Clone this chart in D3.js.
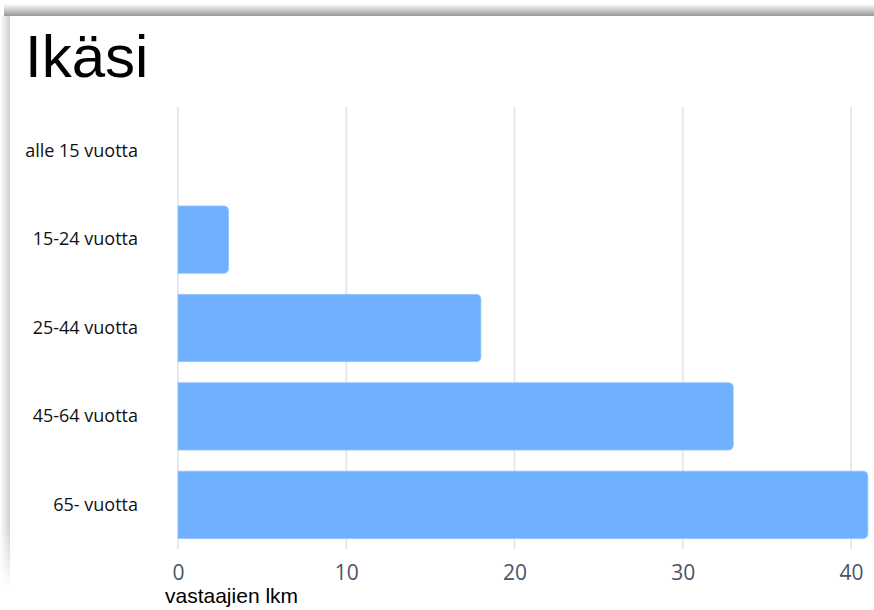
<!DOCTYPE html>
<html>
<head>
<meta charset="utf-8">
<script src="https://cdn.jsdelivr.net/npm/d3@7"></script>
<style>
  body { margin: 0; background: #fff; }
  svg { display: block; }
</style>
</head>
<body>
<div id="chart"></div>
<script>
// Data
const categories = ['alle 15 vuotta', '15-24 vuotta', '25-44 vuotta', '45-64 vuotta', '65- vuotta'];
const counts = [0, 3, 18, 33, 41];
const xTicks = [0, 10, 20, 30, 40];

const W = 874, H = 610;

const svg = d3.select('#chart')
	.append('svg')
	.attr('width', W)
	.attr('height', H);

// Card shadow (top and left edges)
const defs = svg.append('defs');
const gTop = defs.append('linearGradient').attr('id', 'shTop')
	.attr('x1', 0).attr('y1', 0).attr('x2', 0).attr('y2', 1);
gTop.append('stop').attr('offset', '0%').attr('stop-color', '#fff');
gTop.append('stop').attr('offset', '100%').attr('stop-color', '#979797');
const gLeft = defs.append('linearGradient').attr('id', 'shLeft')
	.attr('x1', 0).attr('y1', 0).attr('x2', 1).attr('y2', 0);
gLeft.append('stop').attr('offset', '0%').attr('stop-color', '#fff');
gLeft.append('stop').attr('offset', '100%').attr('stop-color', '#d0d0d0');
const gFade = defs.append('linearGradient').attr('id', 'fade')
	.attr('x1', 0).attr('y1', 0).attr('x2', 0).attr('y2', 1);
gFade.append('stop').attr('offset', '0%').attr('stop-color', '#fff').attr('stop-opacity', 0);
gFade.append('stop').attr('offset', '100%').attr('stop-color', '#fff').attr('stop-opacity', 1);

svg.append('rect').attr('x', 0).attr('y', 16).attr('width', 10).attr('height', 570).attr('fill', 'url(#shLeft)');
svg.append('rect').attr('x', 0).attr('y', 530).attr('width', 10).attr('height', 60).attr('fill', 'url(#fade)');
svg.append('rect').attr('x', 4).attr('y', 4).attr('width', W).attr('height', 12).attr('fill', 'url(#shTop)');

// Title
svg.append('text')
	.attr('x', 25)
	.attr('y', 77)
	.style('font-family', '"Liberation Sans", Arial, sans-serif')
	.style('font-size', '60px')
	.attr('fill', '#000')
	.text('Ikäsi');

// Scales
const x = d3.scaleLinear().domain([0, 40]).range([178, 851]);
const y = d3.scaleBand().domain(categories).range([107, 549]).paddingInner(0.24).paddingOuter(0.12);

// Gridlines
svg.append('g')
	.selectAll('line')
	.data(xTicks)
	.join('line')
	.attr('x1', (d) => x(d))
	.attr('x2', (d) => x(d))
	.attr('y1', 107)
	.attr('y2', 549)
	.attr('stroke', '#e6e9ec')
	.attr('stroke-width', 2);

// Bars: square on the left, rounded on the right
const r = 5;
svg.append('g')
	.selectAll('path')
	.data(categories.map((c, i) => ({ c, v: counts[i] })).filter((d) => d.v > 0))
	.join('path')
	.attr('d', (d) => {
		const x0 = x(0), x1 = x(d.v), y0 = y(d.c), h = y.bandwidth();
		return `M${x0},${y0}H${x1 - r}Q${x1},${y0} ${x1},${y0 + r}V${y0 + h - r}Q${x1},${y0 + h} ${x1 - r},${y0 + h}H${x0}Z`;
	})
	.attr('fill', '#6fb1ff')
	.attr('stroke', '#8cc0ff')
	.attr('stroke-width', 0.8);

// X axis
const xAxis = svg.append('g')
	.attr('transform', 'translate(0,549)')
	.call(d3.axisBottom(x).tickValues(xTicks).tickSize(0).tickPadding(12));
xAxis.select('.domain').remove();
xAxis.selectAll('text')
	.attr('dy', null)
	.attr('y', 31)
	.style('font-family', '"Open Sans", sans-serif')
	.style('font-size', '21px')
	.attr('fill', '#4a5566');

// Y axis labels
const yAxis = svg.append('g')
	.attr('transform', 'translate(178,0)')
	.call(d3.axisLeft(y).tickSize(0).tickPadding(40));
yAxis.select('.domain').remove();
yAxis.selectAll('text')
	.style('font-family', '"Open Sans", sans-serif')
	.style('font-size', '18px')
	.attr('fill', '#111');

// Axis title
svg.append('text')
	.attr('x', 165)
	.attr('y', 603)
	.style('font-family', '"Liberation Sans", Arial, sans-serif')
	.style('font-size', '21px')
	.attr('fill', '#000')
	.text('vastaajien lkm');
</script>
</body>
</html>
